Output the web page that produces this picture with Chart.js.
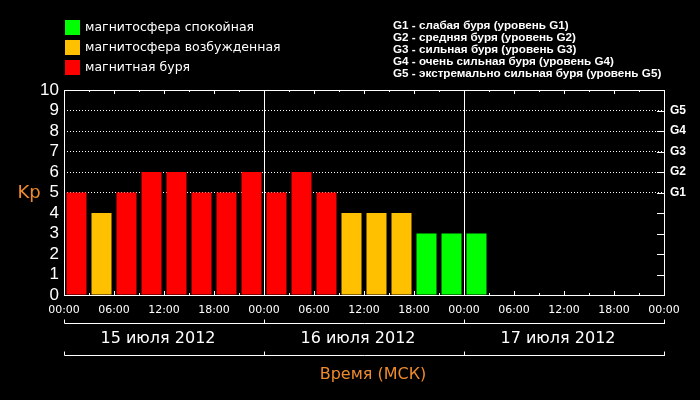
<!DOCTYPE html>
<html>
<head>
<meta charset="utf-8">
<script src="https://cdn.jsdelivr.net/npm/chart.js@4"></script>
<style>
  html, body { margin: 0; padding: 0; background: #000; }
  canvas { display: block; }
</style>
</head>
<body>
<canvas id="kpChart" width="700" height="400"></canvas>
<script>
// Kp index, 3-hour intervals starting 15 July 2012 00:00 MSK
const kpValues = [5, 4, 5, 6, 6, 5, 5, 6,  5, 6, 5, 4, 4, 4, 3, 3,  3];
// 0 - quiet, 1 - disturbed, 2 - storm
const kpStatus = [2, 1, 2, 2, 2, 2, 2, 2,  2, 2, 2, 1, 1, 1, 0, 0,  0];

const statusLabels = ['магнитосфера спокойная', 'магнитосфера возбужденная', 'магнитная буря'];
const statusColors = ['#00FF00', '#FFC000', '#FF0000'];

const stormLevels = [
    'G1 - слабая буря (уровень G1)',
    'G2 - средняя буря (уровень G2)',
    'G3 - сильная буря (уровень G3)',
    'G4 - очень сильная буря (уровень G4)',
    'G5 - экстремально сильная буря (уровень G5)'
];
const stormTicks = ['G1', 'G2', 'G3', 'G4', 'G5'];

const dayLabels = ['15 июля 2012', '16 июля 2012', '17 июля 2012'];
const hourLabels = ['00:00', '06:00', '12:00', '18:00'];

const slotsPerDay = 8;
const totalSlots = dayLabels.length * slotsPerDay;
const orange = '#EE8A2E';

// one category per 3-hour slot, empty slots stay null
let slots = [], slotData = [], slotColors = [];
for (let i = 0; i < totalSlots; i++) {
    slots.push(i);
    slotData.push(i < kpValues.length ? kpValues[i] : null);
    slotColors.push(i < kpStatus.length ? statusColors[kpStatus[i]] : 'transparent');
}

// Frame, tick marks, day separators, legends and titles
const decorPlugin = {
    id: 'decor',
    afterDraw(chart) {
        const ctx = chart.ctx;
        const area = chart.chartArea;
        const xs = chart.scales.xTime;
        const ys = chart.scales.y;
        const px = v => Math.round(v) + 0.5;

        ctx.save();
        ctx.strokeStyle = '#fff';
        ctx.lineWidth = 1;

        // frame
        ctx.strokeRect(px(area.left), px(area.top), Math.round(area.right - area.left), Math.round(area.bottom - area.top));

        ctx.beginPath();
        // top / bottom ticks every 3 hours
        for (let h = 3; h < totalSlots * 3; h += 3) {
            const x = px(xs.getPixelForValue(h));
            const len = h % 6 === 0 ? 4 : 2;
            ctx.moveTo(x, area.top);
            ctx.lineTo(x, area.top + len);
            ctx.moveTo(x, area.bottom);
            ctx.lineTo(x, area.bottom - len);
        }
        // right ticks
        for (let v = 1; v <= 9; v++) {
            const y = px(ys.getPixelForValue(v));
            ctx.moveTo(area.right - 7, y);
            ctx.lineTo(area.right, y);
        }
        // day separators
        for (let d = 1; d < dayLabels.length; d++) {
            const x = px(xs.getPixelForValue(d * 24));
            ctx.moveTo(x, area.top);
            ctx.lineTo(x, area.bottom);
        }
        // date brackets
        [area.bottom + 28, area.bottom + 60].forEach(function(yy) {
            const y = px(yy);
            ctx.moveTo(px(xs.getPixelForValue(0)), y);
            ctx.lineTo(px(xs.getPixelForValue(72)) + 0.5, y);
            for (let d = 0; d <= dayLabels.length; d++) {
                const x = px(xs.getPixelForValue(d * 24));
                ctx.moveTo(x, y);
                ctx.lineTo(x, y - 4);
            }
        });
        ctx.stroke();

        // date labels
        ctx.fillStyle = '#fff';
        ctx.font = '16px "DejaVu Sans"';
        ctx.textAlign = 'center';
        ctx.textBaseline = 'middle';
        dayLabels.forEach(function(label, d) {
            ctx.fillText(label, xs.getPixelForValue(d * 24 + 12) - 6, area.bottom + 44);
        });

        // axis titles
        ctx.fillStyle = orange;
        ctx.fillText('Время (МСК)', (area.left + area.right) / 2 + 9, area.bottom + 80);
        ctx.font = '18px "DejaVu Sans"';
        ctx.fillText('Kp', 29, ys.getPixelForValue(5) + 1);

        // status legend
        ctx.textAlign = 'left';
        ctx.font = '12.5px "DejaVu Sans"';
        statusLabels.forEach(function(label, i) {
            const y = 20 + i * 20;
            ctx.fillStyle = statusColors[i];
            ctx.fillRect(65, y, 15, 15);
            ctx.fillStyle = '#fff';
            ctx.fillText(label, 85, y + 8);
        });

        // storm level legend
        ctx.font = 'bold 11.7px "Liberation Sans"';
        stormLevels.forEach(function(label, i) {
            ctx.fillText(label, 393, 26 + i * 12);
        });

        ctx.restore();
    }
};

const ctx = document.getElementById('kpChart').getContext('2d');
const kpChart = new Chart(ctx, {
    type: 'bar',
    data: {
        labels: slots,
        datasets: [{
            label: 'Kp',
            data: slotData,
            backgroundColor: slotColors,
            borderWidth: 0,
            barPercentage: 0.8,
            categoryPercentage: 1.0
        }]
    },
    options: {
        responsive: false,
        animation: false,
        layout: {
            padding: { top: 90, bottom: 80, left: 0, right: 0 }
        },
        plugins: {
            legend: { display: false },
            tooltip: { enabled: false }
        },
        scales: {
            x: {
                display: false
            },
            xTime: {
                type: 'linear',
                position: 'bottom',
                offset: false,
                min: 0,
                max: 72,
                afterFit: function(scale) { scale.height = 25; },
                ticks: {
                    stepSize: 6,
                    autoSkip: false,
                    maxRotation: 0,
                    padding: 9,
                    color: '#fff',
                    font: { family: 'DejaVu Sans', size: 11 },
                    callback: function(value) {
                        return hourLabels[(value / 6) % 4];
                    }
                },
                grid: { display: false, offset: false, drawTicks: false },
                border: { display: false }
            },
            y: {
                position: 'left',
                min: 0,
                max: 10,
                afterFit: function(scale) { scale.width = 64; },
                ticks: {
                    stepSize: 1,
                    autoSkip: false,
                    padding: 5,
                    color: '#fff',
                    font: { family: 'Liberation Sans', size: 17 }
                },
                grid: {
                    drawTicks: false,
                    lineWidth: 1,
                    color: function(c) {
                        const v = c.tick ? c.tick.value : 0;
                        return (v >= 5 && v <= 9) ? '#fff' : 'transparent';
                    }
                },
                border: { display: false, dash: [1, 2] }
            },
            y2: {
                position: 'right',
                min: 0,
                max: 10,
                afterFit: function(scale) { scale.width = 36; },
                ticks: {
                    stepSize: 1,
                    autoSkip: false,
                    padding: 6,
                    color: '#fff',
                    font: { family: 'Liberation Sans', size: 12, weight: 'bold' },
                    callback: function(value) {
                        return (value >= 5 && value <= 9) ? stormTicks[value - 5] : '';
                    }
                },
                grid: { drawOnChartArea: false, drawTicks: false },
                border: { display: false }
            }
        }
    },
    plugins: [decorPlugin]
});
</script>
</body>
</html>
